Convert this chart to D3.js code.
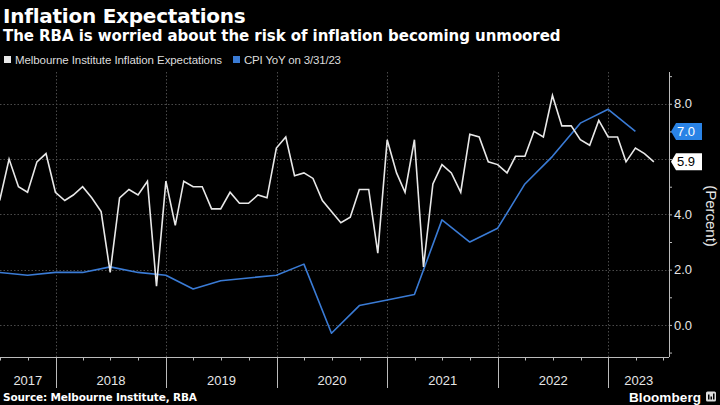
<!DOCTYPE html>
<html><head><meta charset="utf-8">
<script src="https://cdn.jsdelivr.net/npm/d3@7"></script>
<style>html,body{margin:0;padding:0;background:#000;}svg{display:block;}</style>
</head><body>
<svg id="c" width="720" height="405"></svg>
<script>
// ---- data ----
const miStart = [2017, 5]; // Jun 2017 (month index 5), monthly, month-end
const miValues = [4.5,6.0,5.0,4.8,5.9,6.2,4.8,
  4.5,4.7,5.0,4.6,4.1,1.9,4.6,4.9,4.7,5.2,1.4,5.2,
  3.6,5.2,5.0,5.0,4.2,4.2,4.8,4.4,4.4,4.7,4.6,6.4,
  6.8,5.4,5.5,5.3,4.5,4.1,3.7,3.9,4.9,4.9,2.6,6.7,
  5.5,4.8,6.7,2.1,5.1,5.8,5.5,4.8,6.9,6.8,5.9,5.8,
  5.5,6.1,6.1,7.0,6.8,8.3,7.2,7.2,6.7,6.5,7.4,6.8,
  6.8,5.9,6.4,6.2,5.9];
const cpiStart = [2017, 5]; // Jun 2017, quarterly, quarter-end
const cpiValues = [1.9,1.8,1.9,1.9,2.1,1.9,1.8,1.3,1.6,1.7,1.8,2.2,-0.3,0.7,0.9,1.1,3.8,3.0,3.5,5.1,6.1,7.3,7.8,7.0];
const yearLabels = ["2017","2018","2019","2020","2021","2022","2023"];
const yTicks = [-1,0,1,2,3,4,5,6,7,8,9];
const yLabelTicks = [0,2,4,8];
const yGrid = [0,2,4,6,8];
const seriesNames = ["Melbourne Institute Inflation Expectations","CPI YoY on 3/31/23"];
const lastLabels = [{v:7.0, t:"7.0", s:1},{v:5.9, t:"5.9", s:0}];

const monthEnd = (y,m,k) => new Date(y, m+k+1, 0);
const mi = miValues.map((v,i)=>({d:monthEnd(miStart[0],miStart[1],i), v}));
const cpi = cpiValues.map((v,i)=>({d:monthEnd(cpiStart[0],cpiStart[1],i*3), v}));

const WHITE="#e8e8e8", BLUE="#3a7bd5";
const svg = d3.select("#c");
svg.append("rect").attr("width",720).attr("height",405).attr("fill","#000");

const L=0, R=669, T=72, B=357;
const x = d3.scaleTime().domain([new Date(2017,6,1), new Date(2023,6,20)]).range([L,R]);
const y = d3.scaleLinear().domain([-1.16, 9.15]).range([B,T]);

function fit(sel, w){ const n=sel.node(); const len=n.getComputedTextLength(); const k=sel.text().length; if(len>0&&k>1) sel.attr("letter-spacing", ((w-len)/(k-1)).toFixed(3)); return sel; }
const SANS="Liberation Sans, Arial, sans-serif", WIDE="DejaVu Sans, Verdana, sans-serif";

// titles
fit(svg.append("text").attr("x",3).attr("y",23).attr("fill","#fff").attr("font-family",WIDE).attr("font-weight","bold").attr("font-size",20).text("Inflation Expectations"),242);
fit(svg.append("text").attr("x",3).attr("y",41).attr("fill","#fff").attr("font-family",WIDE).attr("font-weight","bold").attr("font-size",15).text("The RBA is worried about the risk of inflation becoming unmoored"),557);

// legend
const lg = svg.append("g").attr("font-family",SANS).attr("fill","#ddd");
lg.append("rect").attr("x",4).attr("y",56).attr("width",7).attr("height",7).attr("fill",WHITE);
fit(lg.append("text").attr("x",15).attr("y",64).attr("font-size",11.5).attr("fill","#ddd").text(seriesNames[0]),207);
lg.append("rect").attr("x",233).attr("y",56).attr("width",7).attr("height",7).attr("fill",BLUE);
fit(lg.append("text").attr("x",244).attr("y",64).attr("font-size",11.5).attr("fill","#ddd").text(seriesNames[1]),97);

// grid
const grid = svg.append("g").attr("stroke","#4a4a4a").attr("stroke-width",1).attr("stroke-dasharray","1.5,2");
grid.selectAll("line.h").data(yGrid).join("line").attr("x1",L).attr("x2",R)
  .attr("y1",d=>Math.round(y(d))+0.5).attr("y2",d=>Math.round(y(d))+0.5);
const years = d3.timeYear.range(new Date(2018,0,1), new Date(2023,1,1));
grid.selectAll("line.v").data(years).join("line").attr("y1",T).attr("y2",B)
  .attr("x1",d=>Math.round(x(d))+0.5).attr("x2",d=>Math.round(x(d))+0.5);

// lines
const line = d3.line().x(d=>x(d.d)).y(d=>y(d.v));
svg.append("path").datum(cpi).attr("d",line).attr("fill","none").attr("stroke",BLUE).attr("stroke-width",1.6).attr("stroke-linejoin","round");
svg.append("path").datum(mi).attr("d",line).attr("fill","none").attr("stroke",WHITE).attr("stroke-width",1.6).attr("stroke-linejoin","miter");

// right axis
const ya = svg.append("g").attr("transform",`translate(${R},0)`)
  .call(d3.axisRight(y).tickValues(yTicks).tickSize(3).tickFormat(d=> yLabelTicks.includes(d)? d3.format(".1f")(d):""));
ya.select(".domain").attr("stroke","#bbb").attr("d",`M0.5,${T}V${B}`);
ya.selectAll(".tick line").attr("stroke","#bbb");
ya.selectAll(".tick text").attr("fill","#e6e6e6").attr("font-size",13).attr("font-family",SANS).attr("x",5);

// last value labels
lastLabels.forEach(l=>{
  const cy=y(l.v), g=svg.append("g");
  const fillc = l.s? "#2a83e6":"#ffffff";
  g.append("path").attr("d",`M${R+2},${cy} L${R+7},${cy-8.5} L${R+33},${cy-8.5} L${R+33},${cy+8.5} L${R+7},${cy+8.5} Z`).attr("fill",fillc);
  g.append("text").attr("x",R+8).attr("y",cy+4.6).attr("font-size",13).attr("font-family",SANS)
    .attr("fill", l.s? "#fff":"#000").text(l.t);
});

// Percent label
svg.append("text").attr("transform","translate(706,216) rotate(90)").attr("text-anchor","middle")
  .attr("font-size",15).attr("font-family",SANS).attr("fill","#e6e6e6").text("(Percent)");

// x axis
const xa = svg.append("g").attr("transform",`translate(0,${B})`);
xa.append("line").attr("x1",L).attr("x2",R).attr("y1",0.5).attr("y2",0.5).attr("stroke","#bbb");
const quarters = d3.timeMonth.every(3).range(new Date(2017,6,1), new Date(2023,6,20));
xa.selectAll("line.q").data(quarters).join("line")
  .attr("x1",d=>Math.round(x(d))+0.5).attr("x2",d=>Math.round(x(d))+0.5).attr("y1",0).attr("y2",d=>d.getMonth()===0?31:3.5).attr("stroke","#bbb");
const yrs = yearLabels.map(s=>+s);
xa.selectAll("text").data(yrs).join("text")
  .attr("x",d=>{const a=Math.max(L,x(new Date(d,0,1))), b=Math.min(R,x(new Date(d+1,0,1))); return (a+b)/2;})
  .attr("y",27.5).attr("text-anchor","middle").attr("font-size",13).attr("font-family",SANS).attr("fill","#e6e6e6")
  .text((d,i)=>yearLabels[i]);

// footer
fit(svg.append("text").attr("x",3).attr("y",401).attr("fill","#fff").attr("font-family",WIDE).attr("font-weight","bold").attr("font-size",10.5).text("Source: Melbourne Institute, RBA"),194);
fit(svg.append("text").attr("x",629).attr("y",401.5).attr("fill","#fff").attr("font-family",SANS).attr("font-weight","bold").attr("font-size",13.5).text("Bloomberg"),72);
const ic = svg.append("g").attr("transform","translate(706,391.5)");
ic.append("rect").attr("width",10).attr("height",10).attr("rx",1.5).attr("fill","#ddd");
[[2,5],[4.5,3],[7,6]].forEach(([bx,bh])=> ic.append("rect").attr("x",bx).attr("y",8-bh).attr("width",1.5).attr("height",bh).attr("fill","#000"));
</script>
</body></html>
